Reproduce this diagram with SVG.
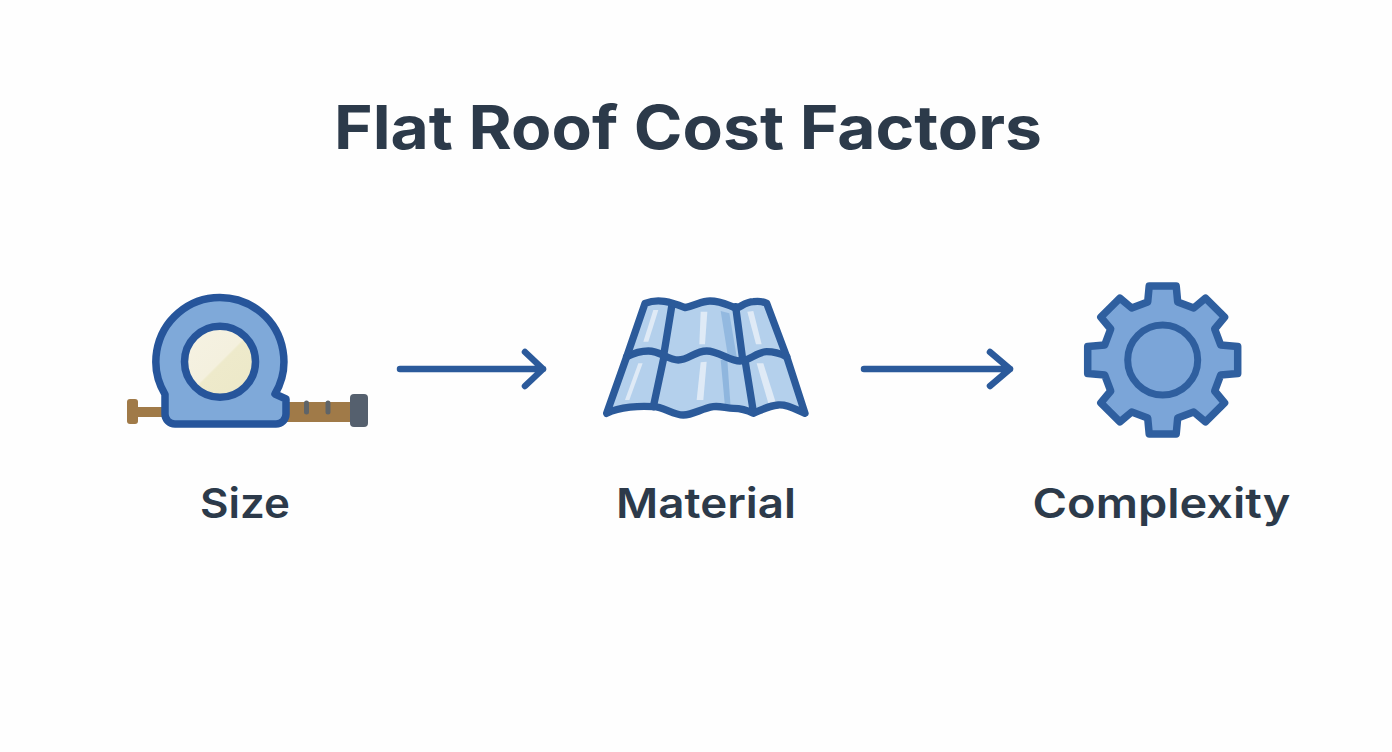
<svg xmlns="http://www.w3.org/2000/svg" width="1392" height="752" viewBox="0 0 1392 752">
<style>
text{font-family:"Inter","Liberation Sans",sans-serif;fill:#2c3a4a;text-anchor:middle}
.title{font-size:60px;font-weight:700}
.label{font-size:41px;font-weight:600}
.conn{fill:none;stroke:#2b5a9b;stroke-width:6.5;stroke-linecap:round;stroke-linejoin:round}
.ln{fill:none;stroke:#2b5a9a;stroke-width:22;stroke-linecap:round;stroke-linejoin:round}
.hl{fill:#dfeaf6}
.tape{fill:#a07a48}
</style>
<defs>
<linearGradient id="lens" x1="0" y1="0" x2="1" y2="1"><stop offset="0" stop-color="#f5f2e3"/><stop offset="0.5" stop-color="#f4f0de"/><stop offset="0.52" stop-color="#eeeacb"/><stop offset="1" stop-color="#ece8c8"/></linearGradient>
</defs>
<rect width="1392" height="752" fill="#fefefe"/>
<text id="title" class="title" x="688" y="149" textLength="708" lengthAdjust="spacingAndGlyphs">Flat Roof Cost Factors</text>
<g id="connectors">
<path class="conn" d="M400 369H543M525 352L543 369L525 386"/>
<path class="conn" d="M864 369H1010M990 352L1010 369L990 386"/>
</g>
<g id="node-size">
<rect class="tape" x="135" y="407" width="32" height="10"/>
<rect class="tape" x="127" y="399" width="11" height="25" rx="3"/>
<rect class="tape" x="285" y="402" width="68" height="20"/>
<rect x="350" y="394" width="18" height="33" rx="4" fill="#55606e"/>
<path d="M306.5 403V412M328 403V412" stroke="#5f6468" stroke-width="5" stroke-linecap="round" fill="none"/>
<path d="M165 394.4A64 64 0 1 1 275 394L286 399V414A10 10 0 0 1 276 424H175A10 10 0 0 1 165 414Z" fill="#7fa9d9" stroke="#26559b" stroke-width="7.5" stroke-linejoin="round"/>
<circle cx="220" cy="361.7" r="35.5" fill="url(#lens)" stroke="#26559b" stroke-width="7.5"/>
<text class="label" x="245" y="518" textLength="90" lengthAdjust="spacingAndGlyphs">Size</text>
</g>
<g id="node-material">
<g transform="translate(590 285) scale(0.33333)">
<path d="M50 385L110 215L165 55C205 40 240 50 285 68C320 60 335 48 360 48C395 48 415 62 440 70C460 60 470 50 490 50C505 48 520 50 530 55L590 215L645 385C610 370 590 358 565 360C535 362 515 375 490 385C465 372 450 370 430 370C410 370 390 362 370 365C335 370 310 390 280 390C250 390 220 365 190 365C150 362 90 365 50 385Z" fill="#b4d0ec"/>
<path d="M392 78L418 85L440 215L414 215Z" fill="#93b9e0"/>
<path d="M392 225L412 225L422 368L405 365Z" fill="#8fb6de"/>
<path class="hl" d="M190 75L205 75L175 170L160 170Z"/>
<path class="hl" d="M332 80L352 80L345 178L328 178Z"/>
<path class="hl" d="M472 80L490 78L515 178L498 178Z"/>
<path class="hl" d="M145 235L158 235L118 345L105 345Z"/>
<path class="hl" d="M332 232L350 230L340 345L320 345Z"/>
<path class="hl" d="M500 235L520 235L558 355L535 355Z"/>
<path class="ln" d="M245 65L222 205M437 65L457 215M222 215L190 365M465 225L490 380"/>
<path class="ln" d="M110 215C130 205 155 198 175 198C210 198 235 225 265 225C295 225 315 198 350 198C385 198 420 228 450 228C480 228 500 200 530 200C550 200 570 205 590 215"/>
<path class="ln" d="M50 385L110 215L165 55C205 40 240 50 285 68C320 60 335 48 360 48C395 48 415 62 440 70C460 60 470 50 490 50C505 48 520 50 530 55L590 215L645 385C610 370 590 358 565 360C535 362 515 375 490 385C465 372 450 370 430 370C410 370 390 362 370 365C335 370 310 390 280 390C250 390 220 365 190 365C150 362 90 365 50 385Z"/>
</g>
<text class="label" x="706" y="518" textLength="180" lengthAdjust="spacingAndGlyphs">Material</text>
</g>
<g id="node-complexity">
<path transform="translate(1162.7 360)" d="M-15 -58L-13.5 -74L13.5 -74L15 -58L31 -52L42.8 -61.9L61.9 -42.8L52 -31L58 -15L75 -13.5L75 13.5L58 15L52 31L61.9 42.8L42.8 61.9L31 52L15 58L13.5 74L-13.5 74L-15 58L-31 52L-42.8 61.9L-61.9 42.8L-52 31L-58 15L-75 13.5L-75 -13.5L-58 -15L-52 -31L-61.9 -42.8L-42.8 -61.9L-31 -52Z" fill="#7ba5d8" stroke="#2f5f9f" stroke-width="7.5" stroke-linejoin="round"/>
<circle cx="1162.7" cy="360" r="35" fill="#7ba5d8" stroke="#2f5f9f" stroke-width="7"/>
<text class="label" x="1161.5" y="518" textLength="258" lengthAdjust="spacingAndGlyphs">Complexity</text>
</g>
</svg>
